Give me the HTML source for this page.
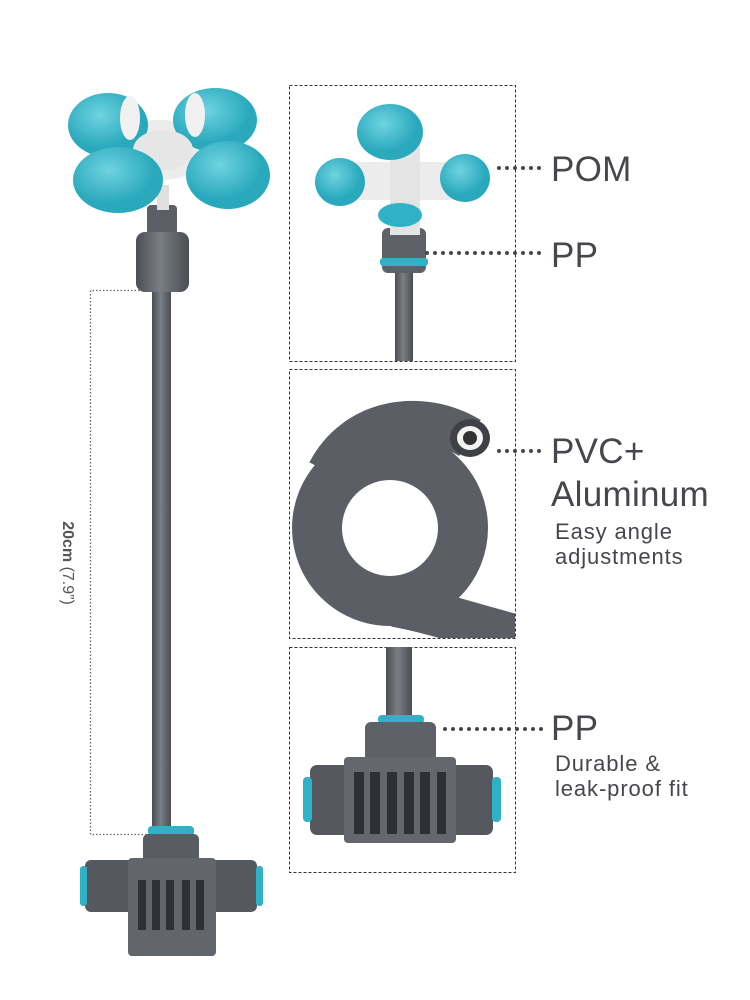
<!DOCTYPE html>
<html><head><meta charset="utf-8"><style>
html,body{margin:0;padding:0;background:#fff;}
body{width:750px;height:1000px;position:relative;overflow:hidden;font-family:"Liberation Sans",sans-serif;color:#45474c;}
.t{position:absolute;white-space:nowrap;}
.big{font-size:35px;letter-spacing:0.3px;}
.sm{font-size:22px;line-height:25px;letter-spacing:0.9px;}
</style></head><body>
<svg width="750" height="1000" style="position:absolute;left:0;top:0">
<defs>
<linearGradient id="rod" x1="0" x2="1"><stop offset="0" stop-color="#4b4e54"/><stop offset="0.45" stop-color="#7a7e85"/><stop offset="1" stop-color="#4a4d53"/></linearGradient>
<radialGradient id="tl" cx="0.4" cy="0.35"><stop offset="0" stop-color="#6fd3e0"/><stop offset="1" stop-color="#2aa9bd"/></radialGradient>
<clipPath id="b2"><rect x="290" y="370" width="225" height="268"/></clipPath>
</defs>
<g fill="none" stroke="#333" stroke-width="1" stroke-dasharray="3,2">
<rect x="289.5" y="85.5" width="226" height="276"/>
<rect x="289.5" y="369.5" width="226" height="269"/>
<rect x="289.5" y="647.5" width="226" height="225"/>
</g>
<path d="M150 290.5H90.5V834.5H150" fill="none" stroke="#666" stroke-width="1.3" stroke-dasharray="1.5,2"/>
<rect x="152" y="285" width="19" height="550" fill="url(#rod)"/>
<rect x="147" y="205" width="30" height="30" rx="4" fill="#5c5f65"/>
<rect x="136" y="232" width="53" height="60" rx="9" fill="url(#rod)"/>
<rect x="157" y="185" width="12" height="25" fill="#e0e0e0"/>
<g>
<ellipse cx="160" cy="150" rx="50" ry="30" fill="#ececec"/>
<ellipse cx="108" cy="125" rx="40" ry="32" fill="url(#tl)"/>
<ellipse cx="215" cy="120" rx="42" ry="32" fill="url(#tl)"/>
<ellipse cx="130" cy="118" rx="10" ry="22" fill="#f1f1f1"/>
<ellipse cx="195" cy="115" rx="10" ry="22" fill="#f1f1f1"/>
<ellipse cx="163" cy="150" rx="30" ry="20" fill="#e6e6e6"/>
<ellipse cx="118" cy="180" rx="45" ry="33" fill="url(#tl)"/>
<ellipse cx="228" cy="175" rx="42" ry="34" fill="url(#tl)"/>
</g>
<rect x="148" y="826" width="46" height="10" rx="4" fill="#2fb2c6"/>
<rect x="143" y="834" width="56" height="30" rx="5" fill="#595c62"/>
<rect x="85" y="860" width="172" height="52" rx="6" fill="#55585e"/>
<rect x="80" y="866" width="7" height="40" rx="3" fill="#2fb2c6"/>
<rect x="256" y="866" width="7" height="40" rx="3" fill="#2fb2c6"/>
<rect x="128" y="858" width="88" height="98" rx="4" fill="#62656b"/>
<g fill="#2e3034"><rect x="138" y="880" width="8" height="50"/><rect x="152" y="880" width="8" height="50"/><rect x="166" y="880" width="8" height="50"/><rect x="182" y="880" width="8" height="50"/><rect x="196" y="880" width="8" height="50"/></g>
<rect x="395" y="235" width="18" height="126" fill="url(#rod)"/>
<rect x="382" y="228" width="44" height="45" rx="6" fill="#5e6167"/>
<rect x="380" y="258" width="48" height="8" rx="3" fill="#2fb2c6"/>
<rect x="330" y="162" width="150" height="38" rx="6" fill="#ececec"/>
<rect x="390" y="140" width="30" height="95" fill="#e4e4e4"/>
<ellipse cx="390" cy="132" rx="33" ry="28" fill="url(#tl)"/>
<ellipse cx="340" cy="182" rx="25" ry="24" fill="url(#tl)"/>
<ellipse cx="465" cy="178" rx="25" ry="24" fill="url(#tl)"/>
<ellipse cx="400" cy="215" rx="22" ry="12" fill="#2fb2c6"/>
<g clip-path="url(#b2)">
<g fill="none" stroke="#5b5e64">
<path d="M530 640 C480 628 435 612 395 605" stroke-width="44"/>
<circle cx="390" cy="528" r="73" stroke-width="50"/>
<path d="M328 472 C355 420 420 408 470 438" stroke-width="42"/>
</g>
</g>
<ellipse cx="470" cy="438" rx="20" ry="19" fill="#3f4146"/>
<ellipse cx="470" cy="438" rx="13" ry="12" fill="#f3f3f3"/>
<ellipse cx="470" cy="438" rx="7" ry="7" fill="#333"/>
<rect x="386" y="647" width="26" height="72" fill="url(#rod)"/>
<rect x="378" y="715" width="46" height="9" rx="4" fill="#2fb2c6"/>
<rect x="365" y="722" width="71" height="40" rx="6" fill="#5e6167"/>
<rect x="310" y="765" width="183" height="70" rx="7" fill="#55585e"/>
<rect x="303" y="777" width="9" height="45" rx="4" fill="#2fb2c6"/>
<rect x="492" y="777" width="9" height="45" rx="4" fill="#2fb2c6"/>
<rect x="344" y="757" width="112" height="86" rx="4" fill="#64676d"/>
<g fill="#2e3034"><rect x="354" y="772" width="10" height="62"/><rect x="370" y="772" width="10" height="62"/><rect x="387" y="772" width="10" height="62"/><rect x="404" y="772" width="10" height="62"/><rect x="420" y="772" width="10" height="62"/><rect x="437" y="772" width="9" height="62"/></g>
<g stroke="#45474c" stroke-width="4" stroke-linecap="round" stroke-dasharray="0,8">
<path d="M499 168H543"/><path d="M427 253H543"/><path d="M499 451H543"/><path d="M445 729H543"/>
</g>
</svg>
<div class="t big" style="left:551px;top:150px">POM</div>
<div class="t big" style="left:551px;top:236px">PP</div>
<div class="t big" style="left:551px;top:432px">PVC+</div>
<div class="t big" style="left:551px;top:475px">Aluminum</div>
<div class="t sm" style="left:555px;top:519px">Easy angle<br>adjustments</div>
<div class="t big" style="left:551px;top:709px">PP</div>
<div class="t sm" style="left:555px;top:751px">Durable &amp;<br>leak-proof fit</div>
<div class="t" style="left:67px;top:563px;transform:translate(-50%,-50%) rotate(90deg);font-size:16px;color:#555"><b>20cm</b> (7.9”)</div>
</body></html>
